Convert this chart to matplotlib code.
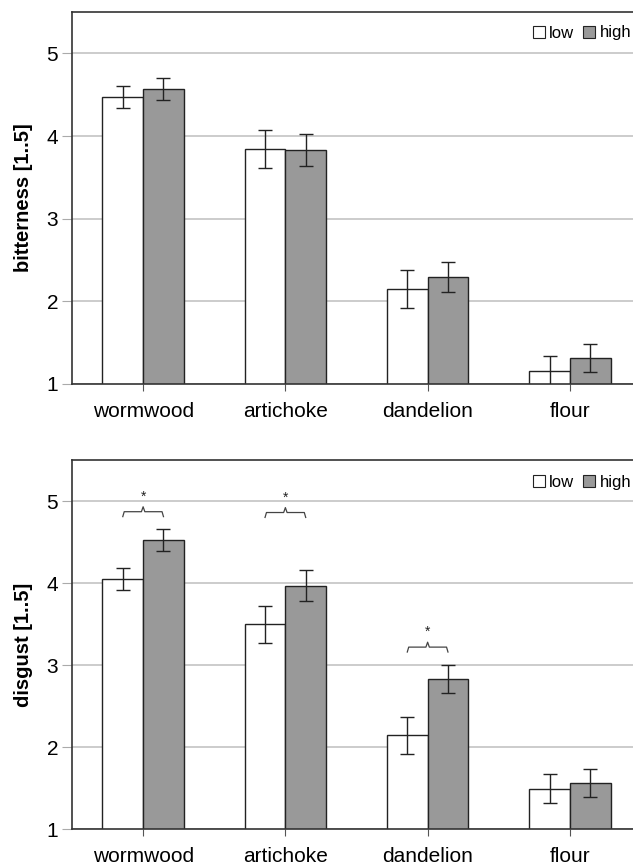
import matplotlib
matplotlib.use("Agg")
import matplotlib.pyplot as plt
from matplotlib.patches import Patch
import numpy as np

plt.rcParams['font.family'] = ['Liberation Sans', 'DejaVu Sans']

# Data
categories = ['wormwood', 'artichoke', 'dandelion', 'flour']
groups = ['low', 'high']

bitter_low = [4.47, 3.84, 2.15, 1.16]
bitter_low_err = [0.13, 0.23, 0.225, 0.18]
bitter_high = [4.57, 3.83, 2.29, 1.31]
bitter_high_err = [0.135, 0.19, 0.18, 0.17]

disgust_low = [4.045, 3.50, 2.145, 1.495]
disgust_low_err = [0.135, 0.225, 0.225, 0.18]
disgust_high = [4.53, 3.97, 2.83, 1.565]
disgust_high_err = [0.135, 0.19, 0.175, 0.17]

# significant differences in disgust: category index and bracket height
sig_cats = [0, 1, 2]
sig_y = [4.87, 4.86, 3.22]

W, H = 633, 866
fig = plt.figure(figsize=(W / 100, H / 100), dpi=100)

edge = '#222222'
gray = '#999999'
bw = 0.286


def panel(rect, low, low_err, high, high_err, ylabel, leg_y):
    ax = fig.add_axes(rect)
    x = np.arange(len(categories))
    ax.bar(x - bw / 2, low, bw, bottom=0, color='white', edgecolor=edge, linewidth=1, zorder=2)
    ax.bar(x + bw / 2, high, bw, bottom=0, color=gray, edgecolor=edge, linewidth=1, zorder=2)
    ax.errorbar(x - bw / 2, low, yerr=low_err, fmt='none', ecolor=edge, elinewidth=1,
                capsize=5, capthick=1, zorder=3)
    ax.errorbar(x + bw / 2, high, yerr=high_err, fmt='none', ecolor=edge, elinewidth=1,
                capsize=5, capthick=1, zorder=3)
    ax.set_xlim(-0.5, 3.5)
    ax.set_ylim(1, 5.5)
    ax.set_yticks([1, 2, 3, 4, 5])
    ax.set_xticks(x)
    ax.set_xticklabels(categories, fontsize=15)
    ax.tick_params(axis='y', labelsize=15, length=7, color='#aaaaaa', pad=3)
    ax.tick_params(axis='x', length=5, color='#555555', pad=8)
    ax.yaxis.grid(True, color='#c4c4c4', linewidth=1.2)
    ax.set_axisbelow(True)
    for s in ['left', 'top', 'bottom']:
        ax.spines[s].set_color('#333333')
        ax.spines[s].set_linewidth(1.2)
    ax.spines['right'].set_visible(False)
    ax.set_ylabel(ylabel, fontsize=14.5, fontweight='bold', labelpad=10)
    handles = [Patch(facecolor='white', edgecolor=edge, linewidth=0.8),
               Patch(facecolor=gray, edgecolor=edge, linewidth=0.8)]
    fig.legend(handles, groups, loc='center right', bbox_to_anchor=(0.997, leg_y),
               bbox_transform=fig.transFigure, ncol=2, frameon=False, fontsize=12,
               handlelength=0.75, handleheight=0.75, handletextpad=0.25,
               columnspacing=0.5, borderpad=0, borderaxespad=0)
    return ax


left = 72 / W
width = (641 - 72) / W
ax1 = panel([left, 1 - 384 / H, width, (384 - 12) / H],
            bitter_low, bitter_low_err, bitter_high, bitter_high_err,
            'bitterness [1..5]', 1 - 33 / H)
ax2 = panel([left, 1 - 829.3 / H, width, (829.3 - 460) / H],
            disgust_low, disgust_low_err, disgust_high, disgust_high_err,
            'disgust [1..5]', 1 - 482 / H)

# significance brackets
for c, y in zip(sig_cats, sig_y):
    half = bw / 2
    xs = [c - half, c - half + 0.01, c - 0.012, c, c + 0.012, c + half - 0.01, c + half]
    ys = [y - 0.06, y, y, y + 0.06, y, y, y - 0.06]
    ax2.plot(xs, ys, color='#444444', linewidth=0.9, zorder=4)
    ax2.text(c, y + 0.1, '*', ha='center', va='bottom', fontsize=10, color='#222222')

fig.savefig('out.png', dpi=100)
